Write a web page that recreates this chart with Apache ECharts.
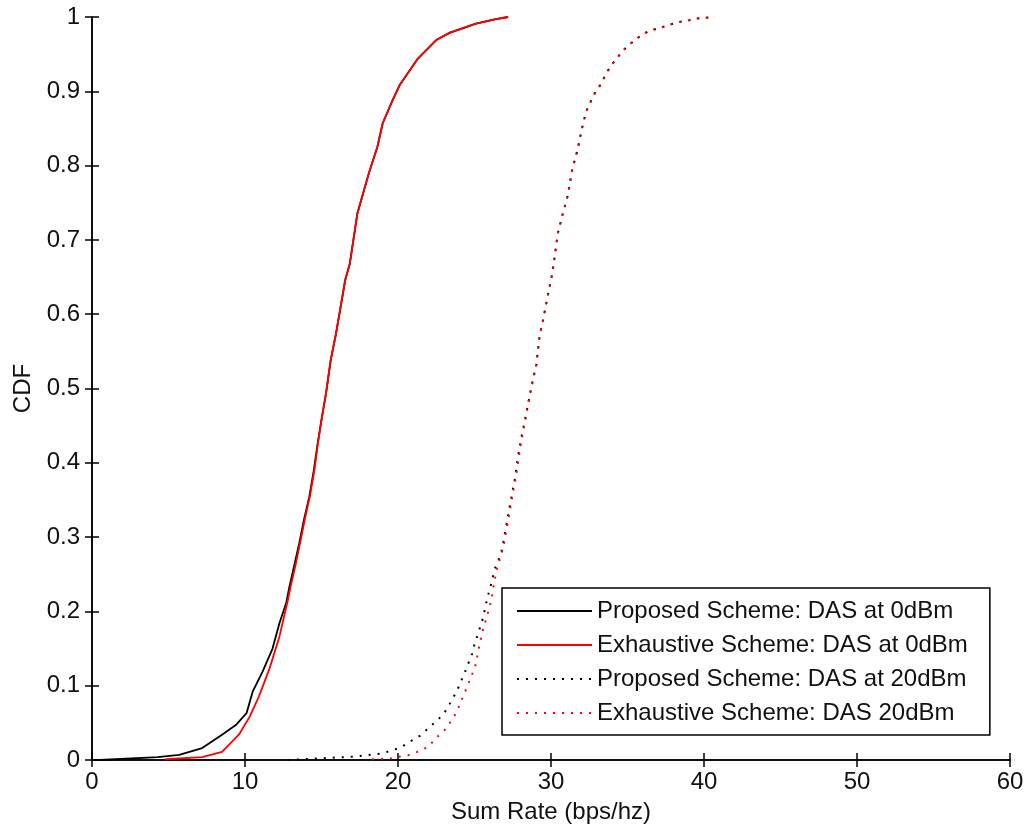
<!DOCTYPE html>
<html>
<head>
<meta charset="utf-8">
<script src="https://cdn.jsdelivr.net/npm/echarts@6/dist/echarts.min.js"></script>
<style>
html,body{margin:0;padding:0;background:#fff;}
#chart{width:1026px;height:827px;}
</style>
</head>
<body>
<div id="chart"></div>
<script>
const seriesNames = [
  'Proposed Scheme: DAS at 0dBm',
  'Exhaustive Scheme: DAS at 0dBm',
  'Proposed Scheme: DAS at 20dBm',
  'Exhaustive Scheme: DAS 20dBm'
];
const xTicks = [0, 10, 20, 30, 40, 50, 60];
const yTicks = [0, 0.1, 0.2, 0.3, 0.4, 0.5, 0.6, 0.7, 0.8, 0.9, 1];

const proposed0 = [[0.5,0],[4.3,0.004],[5.7,0.007],[7.2,0.016],[8.5,0.034],[9.4,0.047],[10.1,0.063],[10.5,0.092],[11.15,0.119],[11.8,0.15],[12.25,0.184],[12.7,0.212],[12.9,0.233],[13.2,0.26],[13.55,0.292],[13.85,0.323],[14.2,0.354],[14.5,0.39],[14.75,0.426],[15.0,0.458],[15.3,0.494],[15.6,0.538],[15.95,0.574],[16.25,0.61],[16.55,0.646],[16.85,0.668],[17.35,0.736],[18.1,0.79],[18.65,0.825],[19.0,0.857],[19.65,0.888],[20.1,0.908],[21.3,0.944],[22.5,0.969],[23.4,0.979],[25.1,0.991],[26.4,0.997],[27.2,1.0]];
const exhaustive0 = [[4.8,0.001],[7.2,0.004],[8.5,0.011],[9.6,0.034],[10.3,0.058],[10.9,0.085],[11.6,0.123],[12.25,0.166],[12.8,0.215],[13.0,0.235],[13.3,0.262],[13.62,0.294],[13.92,0.325],[14.25,0.356],[14.55,0.392],[14.78,0.428],[15.02,0.46],[15.3,0.494],[15.6,0.538],[15.95,0.574],[16.25,0.61],[16.55,0.646],[16.85,0.668],[17.35,0.736],[18.1,0.79],[18.65,0.825],[19.0,0.857],[19.65,0.888],[20.1,0.908],[21.3,0.944],[22.5,0.969],[23.4,0.979],[25.1,0.991],[26.4,0.997],[27.2,1.0]];
const proposed20 = [[12.8,0],[16.6,0.004],[17.15,0.0045],[19.0,0.009],[20.2,0.017],[20.8,0.025],[21.4,0.032],[22.0,0.043],[22.65,0.055],[23.15,0.067],[23.5,0.08],[23.85,0.093],[24.1,0.105],[24.35,0.117],[24.6,0.13],[24.85,0.143],[25.0,0.156],[25.2,0.168],[25.4,0.181],[25.6,0.194],[25.7,0.206],[25.98,0.229],[26.16,0.242],[26.3,0.256],[26.57,0.269],[26.79,0.283],[27.0,0.307],[27.22,0.332],[27.44,0.357],[27.66,0.381],[27.83,0.406],[28.05,0.433],[28.3,0.458],[28.53,0.482],[28.77,0.507],[29.04,0.532],[29.25,0.57],[29.5,0.594],[29.75,0.621],[30.0,0.646],[30.1,0.657],[30.45,0.709],[30.78,0.736],[31.1,0.76],[31.4,0.796],[31.76,0.823],[32.0,0.848],[32.3,0.873],[32.85,0.897],[33.3,0.911],[33.6,0.924],[33.95,0.935],[34.7,0.955],[35.25,0.965],[35.8,0.974],[36.45,0.982],[37.1,0.985],[37.65,0.989],[38.3,0.993],[38.9,0.995],[39.5,0.998],[40.7,1.0]];
const exhaustive20 = [[18.3,0.001],[19.6,0.002],[20.2,0.005],[20.8,0.007],[21.4,0.012],[22.0,0.018],[22.5,0.03],[23.0,0.039],[23.5,0.053],[23.85,0.065],[24.1,0.078],[24.35,0.09],[24.6,0.103],[24.85,0.116],[25.07,0.128],[25.3,0.152],[25.6,0.18],[25.77,0.19],[26.1,0.215],[26.3,0.24],[26.45,0.256],[26.65,0.27],[26.87,0.285],[27.08,0.309],[27.3,0.334],[27.5,0.358],[27.72,0.383],[27.9,0.408],[28.1,0.434],[28.33,0.458],[28.53,0.482],[28.77,0.507],[29.04,0.532],[29.25,0.57],[29.5,0.594],[29.75,0.621],[30.0,0.646],[30.1,0.657],[30.45,0.709],[30.78,0.736],[31.1,0.76],[31.4,0.796],[31.76,0.823],[32.0,0.848],[32.3,0.873],[32.85,0.897],[33.3,0.911],[33.6,0.924],[33.95,0.935],[34.7,0.955],[35.25,0.965],[35.8,0.974],[36.45,0.982],[37.1,0.985],[37.65,0.989],[38.3,0.993],[38.9,0.995],[39.5,0.998],[40.7,1.0]];

const FONT = '"Liberation Sans", Arial, sans-serif';
const FS = 24;
const chart = echarts.init(document.getElementById('chart'), null, {renderer:'canvas'});
const axisLine = {show:true, lineStyle:{color:'#000', width:1.5}};
const tick = {show:true, inside:true, length:7, lineStyle:{color:'#000', width:1.5}};
const labelStyle = {color:'#111', fontSize:FS, fontFamily:FONT};

function line(name, data, color, dotted) {
  return {
    name, type:'line', data, symbol:'none', smooth:false,
    lineStyle:{color, width: dotted ? 2 : 1.8, type: dotted ? [2,7] : 'solid'},
    itemStyle:{color},
    emphasis:{disabled:true}
  };
}

chart.setOption({
  animation:false,
  backgroundColor:'#fff',
  grid:{left:92, right:16, top:17, bottom:67, containLabel:false, outerBoundsMode:'none'},
  legend:{
    data:seriesNames,
    orient:'vertical',
    left:502, top:588,
    padding:[10,22,9,14],
    itemGap:8,
    itemWidth:75, itemHeight:14,
    itemStyle:{opacity:0},
    backgroundColor:'#fff',
    borderColor:'#000', borderWidth:1.5, borderRadius:0,
    textStyle:{fontSize:FS, lineHeight:26, color:'#111', fontFamily:FONT}
  },
  xAxis:[
    {type:'value', min:xTicks[0], max:xTicks[xTicks.length-1], interval:10,
     name:'Sum Rate (bps/hz)', nameLocation:'middle', nameGap:40,
     nameTextStyle:{fontSize:FS, color:'#111', fontFamily:FONT},
     axisLine, axisTick:tick, splitLine:{show:false},
     axisLabel:Object.assign({margin:10}, labelStyle)},
    {type:'value', position:'top', min:0, max:60, interval:10,
     axisLine, axisTick:tick, axisLabel:{show:false}, splitLine:{show:false}}
  ],
  yAxis:[
    {type:'value', min:yTicks[0], max:yTicks[yTicks.length-1], interval:0.1,
     name:'CDF', nameLocation:'middle', nameGap:56,
     nameTextStyle:{fontSize:FS, color:'#111', fontFamily:FONT},
     axisLine, axisTick:tick, splitLine:{show:false},
     axisLabel:Object.assign({margin:12, formatter:v=>String(Math.round(v*10)/10)}, labelStyle)},
    {type:'value', position:'right', min:0, max:1, interval:0.1,
     axisLine, axisTick:tick, axisLabel:{show:false}, splitLine:{show:false}}
  ],
  series:[
    line(seriesNames[0], proposed0, '#000', false),
    line(seriesNames[1], exhaustive0, '#ff0000', false),
    line(seriesNames[2], proposed20, '#000', true),
    line(seriesNames[3], exhaustive20, '#ff0000', true)
  ]
});
</script>
</body>
</html>
